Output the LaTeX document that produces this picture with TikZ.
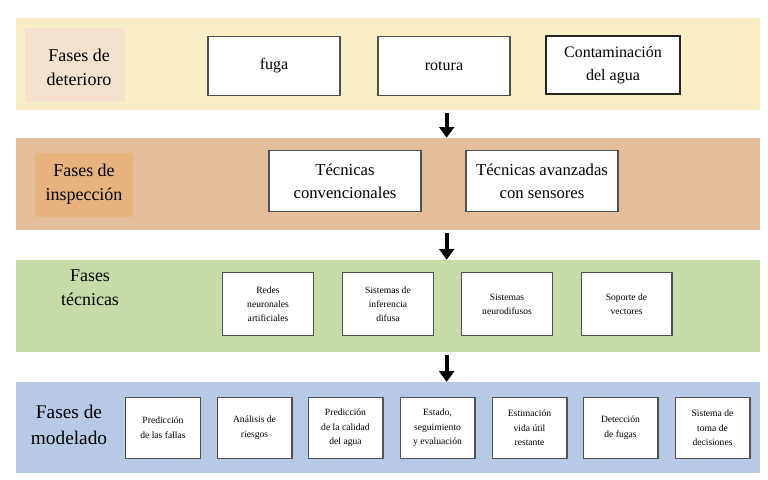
\documentclass[tikz,border=0pt]{standalone}
\usepackage{fontspec}
\setmainfont{Liberation Serif}
\usetikzlibrary{arrows.meta}

\definecolor{amarillo}{HTML}{F8EFC6}
\definecolor{rosado}{HTML}{F6E2CC}
\definecolor{canela}{HTML}{E4BE9A}
\definecolor{dorado}{HTML}{E6B27E}
\definecolor{verde}{HTML}{C6DBA8}
\definecolor{azul}{HTML}{B8C9E8}
\definecolor{borde}{HTML}{505050}

\tikzset{
  franja/.style={draw=none, minimum width=558pt, minimum height=69pt, inner sep=0pt},
  etiqueta/.style={align=center, inner sep=0pt, font=\fontsize{13.5}{18}\selectfont},
  caja/.style={draw=borde, fill=white, line width=1pt, align=center, inner sep=1pt},
  cajagrande/.style={caja, minimum width=99pt, minimum height=44pt, font=\fontsize{12}{17}\selectfont},
  cajaancha/.style={caja, minimum width=114pt, minimum height=46pt, font=\fontsize{12.5}{17}\selectfont},
  cajatecnica/.style={caja, minimum width=68pt, minimum height=47pt, font=\fontsize{7.2}{10.5}\selectfont},
  cajamodelo/.style={caja, minimum width=56pt, minimum height=46pt, font=\fontsize{7.2}{11}\selectfont},
  flecha/.style={line width=3pt, -{Triangle[width=11pt,length=8pt]}}
}

\begin{document}
\begin{tikzpicture}[x=0.75pt, y=-0.75pt]

\useasboundingbox (0,0) rectangle (768,479);

\node[franja, fill=amarillo] (f1) at (388,64) {};
\node[franja, fill=canela] (f2) at (388,184) {};
\node[franja, fill=verde] (f3) at (388,306) {};
\node[franja, fill=azul, minimum height=68pt] (f4) at (388,427.5) {};

\node[fill=rosado, minimum width=75pt, minimum height=56pt, inner sep=0pt] (e1f) at (75,65) {};
\node[fill=dorado, minimum width=73pt, minimum height=48pt, inner sep=0pt] (e2f) at (84,185) {};

\node[etiqueta] (e1) at (79,67) {Fases de\\deterioro};
\node[etiqueta] (e2) at (84,184) {Fases de\\inspección};
\node[etiqueta] (e3) at (90,288) {Fases\\técnicas};
\node[etiqueta, font=\fontsize{14.5}{19}\selectfont] (e4) at (69,425) {Fases de\\modelado};

\node[cajagrande] (fuga) at (274,66) {fuga};
\node[cajagrande] (rotura) at (444,66) {rotura};
\node[cajagrande, draw=black!85, line width=1.4pt, minimum width=101pt] (contam) at (613,65) {Contaminación\\del agua};

\node[cajaancha] (conv) at (345,181) {Técnicas\\convencionales};
\node[cajaancha] (avanz) at (542,181) {Técnicas avanzadas\\con sensores};

\node[cajatecnica] (redes) at (268,304) {Redes\\neuronales\\artificiales};
\node[cajatecnica] (difusa) at (388,304) {Sistemas de\\inferencia\\difusa};
\node[cajatecnica] (neuro) at (507,304) {Sistemas\\neurodifusos};
\node[cajatecnica] (soporte) at (626.5,304) {Soporte de\\vectores};

\node[cajamodelo] (m1) at (163,428) {Predicción\\de las fallas};
\node[cajamodelo] (m2) at (254.5,428) {Análisis de\\riesgos};
\node[cajamodelo] (m3) at (345.5,428) {Predicción\\de la calidad\\del agua};
\node[cajamodelo] (m4) at (437.5,428) {Estado,\\seguimiento\\y evaluación};
\node[cajamodelo] (m5) at (529.5,428) {Estimación\\vida útil\\restante};
\node[cajamodelo] (m6) at (620.5,428) {Detección\\de fugas};
\node[cajamodelo] (m7) at (712.5,428) {Sistema de\\toma de\\decisiones};

\draw[flecha] ([xshift=44pt, yshift=-2pt]f1.south) to ([xshift=44pt]f2.north);
\draw[flecha] ([xshift=44pt, yshift=-2pt]f2.south) to ([xshift=44pt]f3.north);
\draw[flecha] ([xshift=44pt, yshift=-2pt]f3.south) to ([xshift=44pt]f4.north);

\end{tikzpicture}
\end{document}
